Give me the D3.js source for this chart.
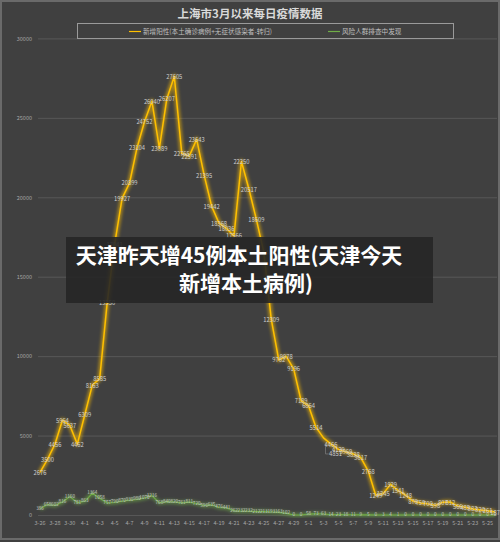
<!DOCTYPE html>
<html>
<head>
<meta charset="utf-8">
<script src="https://cdn.jsdelivr.net/npm/d3@7"></script>
<style>
  html, body { margin: 0; padding: 0; background: #404040; }
  svg { display: block; }
  text { font-family: "Noto Sans CJK SC", "Noto Sans", sans-serif; }
</style>
</head>
<body>
<svg id="chart" width="500" height="542"></svg>
<script>
// Daily categories, 3-26 through 5-26
const dates = [
  "3-26","3-27","3-28","3-29","3-30","3-31",
  "4-1","4-2","4-3","4-4","4-5","4-6","4-7","4-8","4-9","4-10",
  "4-11","4-12","4-13","4-14","4-15","4-16","4-17","4-18","4-19","4-20",
  "4-21","4-22","4-23","4-24","4-25","4-26","4-27","4-28","4-29","4-30",
  "5-1","5-2","5-3","5-4","5-5","5-6","5-7","5-8","5-9","5-10",
  "5-11","5-12","5-13","5-14","5-15","5-16","5-17","5-18","5-19","5-20",
  "5-21","5-22","5-23","5-24","5-25","5-26"
];

// 新增阳性(本土确诊病例+无症状感染者-转归)
const newPositive = [
  2676, 3500, 4456, 5964, 5637, 4462,
  6309, 8163, 8585, 13350, 17041, 19927, 20899, 23104, 24752, 26040,
  23089, 26207, 27605, 22765, 22591, 23643, 21395, 19442, 18368, 18036,
  17566, 22250, 20517, 18609, 16546, 12309, 9762, 9978, 9196, 7189,
  6864, 5514, 4851, 4466, 4129, 3969, 3838, 3617, 2768, 1249,
  1345, 1929, 1541, 1248, 876, 759, 700, 598, 807, 812,
  566, 485, 383, 320, 261, 187
];

// 风险人群排查中发现
const screeningFound = [
  386, 658, 602, 816, 1160, 781,
  863, 1364, 1058, 757, 790, 870, 930, 980, 1070, 1216,
  768, 840, 820, 761, 811, 720, 596, 635, 476, 441,
  262, 232, 232, 212, 213, 193, 163, 102, 0, 0,
  58, 73, 63, 14, 23, 18, 11, 9, 5, 0,
  3, 4, 1, 0, 0, 0, 0, 0, 0, 0,
  0, 0, 0, 0, 0, 0
];

const xTickLabels = [
  "3-26","3-28","3-30","4-1","4-3","4-5","4-7","4-9","4-11","4-13","4-15",
  "4-17","4-19","4-21","4-23","4-25","4-27","4-29","5-1","5-3","5-5","5-7",
  "5-9","5-11","5-13","5-15","5-17","5-19","5-21","5-23","5-25"
];
const yTicks = [0, 5000, 10000, 15000, 20000, 25000, 30000];

const seriesNames = ["新增阳性(本土确诊病例+无症状感染者-转归)", "风险人群排查中发现"];
const title = "上海市3月以来每日疫情数据";
const bannerLines = ["天津昨天增45例本土阳性(天津今天", "新增本土病例)"];

const W = 500, H = 542;
const svg = d3.select("#chart");

svg.append("rect").attr("x", 1).attr("y", 1).attr("width", W - 2).attr("height", H - 4)
  .attr("fill", "#404040").attr("stroke", "#6a6a6a").attr("stroke-width", 2);

const defs = svg.append("defs");
function glow(id, sd) {
  const f = defs.append("filter").attr("id", id)
    .attr("x", "-10%").attr("y", "-10%").attr("width", "120%").attr("height", "120%");
  f.append("feGaussianBlur").attr("in", "SourceGraphic").attr("stdDeviation", sd);
}
glow("glowY", 1.8);
glow("glowG", 1.6);

const x = d3.scaleBand().domain(dates).range([36.3, 498.8]);
const cx = d => x(d) + x.bandwidth() / 2;
const y = d3.scaleLinear().domain([0, 30000]).range([515, 38.4]);

// gridlines + y axis labels
const yAxis = d3.axisLeft(y).tickValues(yTicks).tickSize(-(497 - 38)).tickPadding(6).tickFormat(d3.format("d"));
const yg = svg.append("g").attr("transform", "translate(38,0)").call(yAxis);
yg.select(".domain").remove();
yg.selectAll(".tick line").attr("stroke", "#575757").attr("stroke-width", 1);
yg.selectAll(".tick text").attr("fill", "#a6a6a6").attr("font-size", 5.5);

// x axis labels
const xAxis = d3.axisBottom(x).tickValues(xTickLabels).tickSize(0).tickPadding(6);
const xg = svg.append("g").attr("transform", "translate(0,515)").call(xAxis);
xg.select(".domain").remove();
xg.selectAll(".tick text").attr("fill", "#a6a6a6").attr("font-size", 5.5);

// title
svg.append("text").attr("x", 250).attr("y", 18).attr("text-anchor", "middle")
  .attr("fill", "#d9d9d9").attr("font-size", 11.5).attr("font-weight", "bold").text(title);

// legend
const lg = svg.append("g");
lg.append("rect").attr("x", 77.5).attr("y", 23.5).attr("width", 376).attr("height", 15)
  .attr("fill", "none").attr("stroke", "#9a9a9a").attr("stroke-width", 1);
const legendItems = [
  { name: seriesNames[0], color: "#ffc000", x0: 129 },
  { name: seriesNames[1], color: "#70ad47", x0: 328 }
];
legendItems.forEach(it => {
  lg.append("line").attr("x1", it.x0).attr("x2", it.x0 + 12).attr("y1", 31.5).attr("y2", 31.5)
    .attr("stroke", it.color).attr("stroke-width", 1.2);
  lg.append("text").attr("x", it.x0 + 14).attr("y", 33.8).attr("fill", "#bfbfbf")
    .attr("font-size", 6.6).text(it.name);
});

const line = d3.line().x((d, i) => cx(dates[i])).y(d => y(d));

function drawSeries(values, color, filterId, width) {
  const g = svg.append("g");
  g.append("path").attr("d", line(values)).attr("fill", "none").attr("stroke", color)
    .attr("stroke-width", width + 3.5).attr("stroke-opacity", 0.5).attr("filter", `url(#${filterId})`)
    .attr("stroke-linejoin", "round");
  g.append("path").attr("d", line(values)).attr("fill", "none").attr("stroke", color)
    .attr("stroke-width", width).attr("stroke-linejoin", "round");
  return g;
}

const gG = drawSeries(screeningFound, "#70ad47", "glowG", 1.1);
const gY = drawSeries(newPositive, "#ffc000", "glowY", 1.5);

// yellow value labels; the 5-3 label sits off the line with a leader
const shifted = { "5-3": [12, 16] };
newPositive.forEach((v, i) => {
  const d = dates[i];
  const px = cx(d), py = y(v);
  const off = shifted[d] || [0, 0];
  if (shifted[d]) {
    gY.append("path")
      .attr("d", `M${px + 2},${py + 6}V${py + off[1]}H${px + 5}`)
      .attr("fill", "none").attr("stroke", "#8c8c8c").attr("stroke-width", 0.6);
  }
  gY.append("text").attr("x", px + off[0]).attr("y", py + off[1]).attr("text-anchor", "middle")
    .attr("dominant-baseline", "central").attr("fill", "#cfcfcf").attr("font-size", 5.8).text(v);
});

// green value labels
screeningFound.forEach((v, i) => {
  gG.append("text").attr("x", cx(dates[i])).attr("y", y(v) - 1).attr("text-anchor", "middle")
    .attr("dominant-baseline", "central").attr("fill", "#c4c4c4").attr("font-size", 4.6).text(v);
});

// headline banner over the chart
const bn = svg.append("g");
bn.append("rect").attr("x", 66).attr("y", 237).attr("width", 367).attr("height", 66)
  .attr("fill", "#262626").attr("fill-opacity", 0.9);
const bannerX = [239, 246];
const bannerY = [254, 282];
bannerLines.forEach((t, i) => {
  bn.append("text").attr("x", bannerX[i]).attr("y", bannerY[i]).attr("text-anchor", "middle")
    .attr("dominant-baseline", "central").attr("fill", "#ffffff").attr("font-size", 21)
    .attr("font-weight", "bold").text(t);
});
</script>
</body>
</html>
